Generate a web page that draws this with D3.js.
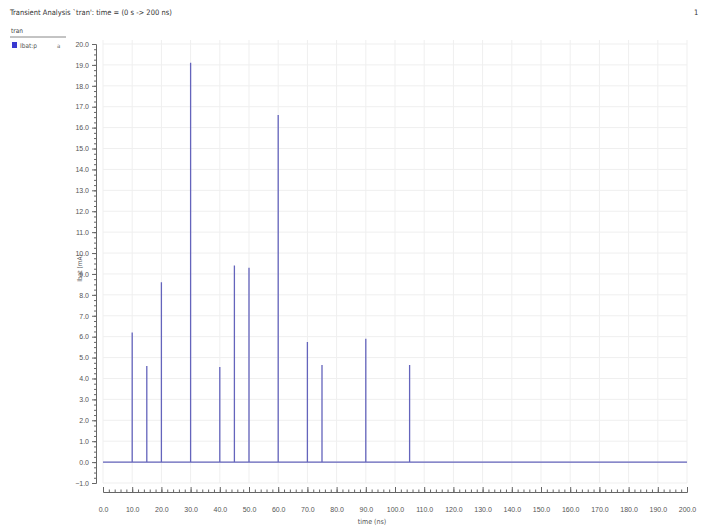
<!DOCTYPE html>
<html>
<head>
<meta charset="utf-8">
<script src="https://cdn.jsdelivr.net/npm/d3@7"></script>
<style>
  body { margin: 0; background: #fff; }
  svg { display: block; font-family: "Liberation Sans Narrow", "DejaVu Sans Condensed", sans-serif; }
  .grid line { stroke: #efefef; stroke-width: 1; }
  .axis path, .axis line { stroke: #666; }
  .axis text { fill: #555; font-size: 7px; }
</style>
</head>
<body>
<svg id="chart"></svg>
<script>
// spike times (ns) and peak values
const spikeTimes  = [10, 15, 20, 30, 40, 45, 50, 60, 70, 75, 90, 105];
const spikeValues = [6.2, 4.6, 8.6, 19.1, 4.55, 9.4, 9.3, 16.6, 5.75, 4.65, 5.9, 4.65];

const xTickValues = d3.range(0, 201, 10);
const yTickValues = d3.range(-1, 21, 1);

const titleText = "Transient Analysis `tran': time = (0 s -> 200 ns)";
const legendHeader = "tran";
const legendLabel = "Ibat:p";
const xLabel = "time (ns)";
const yLabel = "Ibat (mA)";

const width = 705, height = 529;
const svg = d3.select('#chart').attr('width', width).attr('height', height);

const x = d3.scaleLinear().domain([0, 200]).range([103, 687]);
const y = d3.scaleLinear().domain([-1, 20]).range([483, 44]);

// waveform points: flat at zero with an impulse at each spike time
const wave = [[0, 0]];
spikeTimes.forEach((t, i) => {
    wave.push([t, 0], [t, spikeValues[i]], [t, 0]);
});
wave.push([200, 0]);

// grid
const grid = svg.append('g').attr('class', 'grid');
grid.selectAll('.gx')
    .data(xTickValues)
    .join('line')
    .attr('x1', d => x(d)).attr('x2', d => x(d))
    .attr('y1', y(20) - 4).attr('y2', y(-1));
grid.selectAll('.gy')
    .data(yTickValues)
    .join('line')
    .attr('x1', x(0)).attr('x2', x(200))
    .attr('y1', d => y(d)).attr('y2', d => y(d));

// y axis, offset left of the plot
svg.append('g')
    .attr('class', 'axis')
    .attr('transform', 'translate(96,0)')
    .call(d3.axisLeft(y).tickValues(yTickValues).tickFormat(d3.format('.1f')).tickSize(4).tickSizeOuter(0));
svg.append('g')
    .attr('class', 'axis')
    .attr('transform', 'translate(96,0)')
    .call(d3.axisLeft(y).tickValues(d3.range(-1, 20.01, 0.25)).tickFormat('').tickSize(2).tickSizeOuter(0));

// x axis, below the plot with ticks pointing up
const xAxis = svg.append('g')
    .attr('class', 'axis')
    .attr('transform', 'translate(0,492)')
    .call(d3.axisTop(x).tickValues(xTickValues).tickFormat(d3.format('.1f')).tickSize(5).tickSizeOuter(0));
xAxis.selectAll('text').attr('y', 20);
svg.append('g')
    .attr('class', 'axis')
    .attr('transform', 'translate(0,492)')
    .call(d3.axisTop(x).tickValues(d3.range(0, 200.01, 2)).tickFormat('').tickSize(2.5).tickSizeOuter(0));

// waveform
svg.append('path')
    .datum(wave)
    .attr('fill', 'none')
    .attr('stroke', '#6464bc')
    .attr('stroke-width', 1.3)
    .attr('d', d3.line().x(d => x(d[0])).y(d => y(d[1])));

// axis labels
svg.append('text')
    .attr('x', 372).attr('y', 524)
    .attr('text-anchor', 'middle')
    .attr('font-size', 7).attr('fill', '#555')
    .text(xLabel);
svg.append('text')
    .attr('transform', 'translate(82,268) rotate(-90)')
    .attr('text-anchor', 'middle')
    .attr('font-size', 6.5).attr('fill', '#555')
    .text(yLabel);

// title and page number
svg.append('text')
    .attr('x', 10).attr('y', 15)
    .attr('font-size', 7.5).attr('fill', '#333')
    .text(titleText);
svg.append('text')
    .attr('x', 694).attr('y', 15)
    .attr('font-size', 7.5).attr('fill', '#333')
    .text('1');

// legend
svg.append('text')
    .attr('x', 11).attr('y', 33)
    .attr('font-size', 6.5).attr('fill', '#444')
    .text(legendHeader);
svg.append('line')
    .attr('x1', 10).attr('x2', 66)
    .attr('y1', 37).attr('y2', 37)
    .attr('stroke', '#888');
svg.append('rect')
    .attr('x', 12).attr('y', 42)
    .attr('width', 5).attr('height', 6)
    .attr('fill', '#3a3ad0');
svg.append('text')
    .attr('x', 20).attr('y', 47.5)
    .attr('font-size', 6.5).attr('fill', '#555')
    .text(legendLabel);
svg.append('text')
    .attr('x', 57).attr('y', 48)
    .attr('font-size', 6).attr('fill', '#666')
    .text('a');
</script>
</body>
</html>
